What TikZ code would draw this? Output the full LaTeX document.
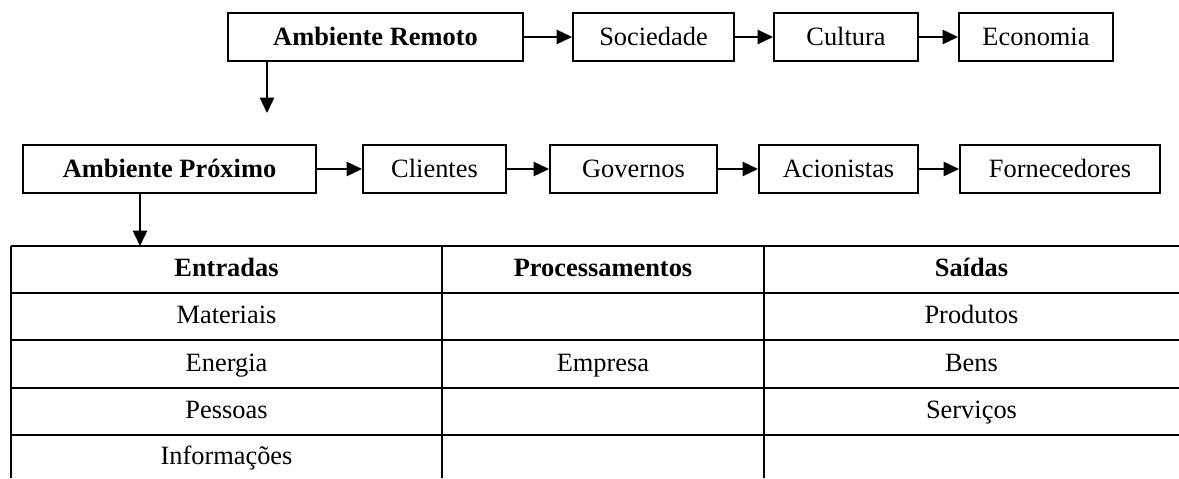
\documentclass[tikz,border=0pt]{standalone}
\usepackage{fontspec}
\setmainfont{Liberation Serif}
\usetikzlibrary{arrows.meta}
\begin{document}
\begin{tikzpicture}[x=0.4545pt, y=-0.4545pt, line width=0.9pt, font=\fontsize{12}{14}\selectfont,
box/.style={draw, minimum height=21.5pt, inner sep=0pt, text height=10pt, text depth=2pt},
head/.style={font=\fontsize{12}{14}\selectfont\bfseries},
arr/.style={-{Triangle[length=7pt,width=6.5pt]}, line width=0.8pt},
cell/.style={inner sep=0pt, text height=9pt, text depth=2.5pt}]
\useasboundingbox (0,0) rectangle (1179,478);
\node[box, head, minimum width=134.1pt] (remoto) at (375.5,37) {Ambiente Remoto};
\node[box, minimum width=73.2pt] (sociedade) at (653.5,37) {Sociedade};
\node[box, minimum width=65.5pt] (cultura) at (846,37) {Cultura};
\node[box, minimum width=70pt] (economia) at (1036,37) {Economia};
\draw[arr] (remoto) -- (sociedade);
\draw[arr] (sociedade) -- (cultura);
\draw[arr] (cultura) -- (economia);
\node[box, head, minimum width=133.2pt] (proximo) at (169.5,169) {Ambiente Próximo};
\node[box, minimum width=65pt] (clientes) at (434.5,169) {Clientes};
\node[box, minimum width=75.9pt] (governos) at (633.5,169) {Governos};
\node[box, minimum width=72.3pt] (acionistas) at (838.5,169) {Acionistas};
\node[box, minimum width=90.9pt] (fornecedores) at (1060,169) {Fornecedores};
\draw[arr] (proximo) -- (clientes);
\draw[arr] (clientes) -- (governos);
\draw[arr] (governos) -- (acionistas);
\draw[arr] (acionistas) -- (fornecedores);
\coordinate (remotodown) at (267,113);
\draw[arr] (remotodown |- remoto.south) -- (remotodown);
\coordinate (tabtop) at (140,246);
\draw[arr] (tabtop |- proximo.south) -- (tabtop);
\draw (11,246) -- (1179,246);
\draw (11,293) -- (1179,293);
\draw (11,340) -- (1179,340);
\draw (11,388) -- (1179,388);
\draw (11,435) -- (1179,435);
\draw (11,246) -- (11,478);
\draw (442,246) -- (442,478);
\draw (764,246) -- (764,478);
\node[cell, head] (entradas) at (226.5,269.5) {Entradas};
\node[cell, head] (processamentos) at (603,269.5) {Processamentos};
\node[cell, head] (saidas) at (971.5,269.5) {Saídas};
\node[cell] (materiais) at (226.5,316.5) {Materiais};
\node[cell] (energia) at (226.5,364) {Energia};
\node[cell] (pessoas) at (226.5,411.5) {Pessoas};
\node[cell] (informacoes) at (226.5,457) {Informações};
\node[cell] (empresa) at (603,364) {Empresa};
\node[cell] (produtos) at (971.5,316.5) {Produtos};
\node[cell] (bens) at (971.5,364) {Bens};
\node[cell] (servicos) at (971.5,411.5) {Serviços};
\end{tikzpicture}
\end{document}
